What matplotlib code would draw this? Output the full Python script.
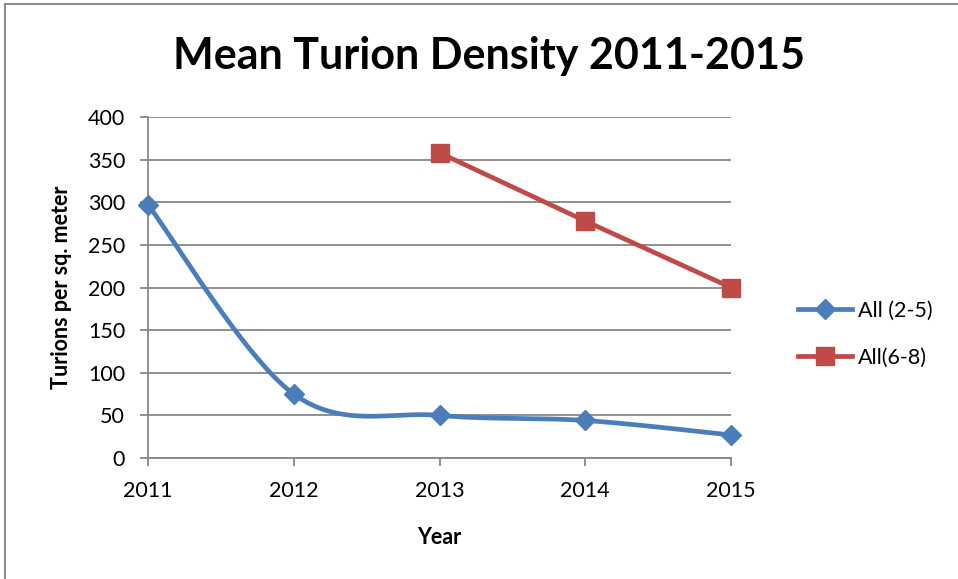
import numpy as np
import matplotlib
matplotlib.use("Agg")
import matplotlib.pyplot as plt
from matplotlib.patches import Rectangle
from matplotlib.lines import Line2D

years = [2011, 2012, 2013, 2014, 2015]
series_a_label = "All (2-5)"
series_a = [297, 75, 50, 44, 27]
series_b_label = "All(6-8)"
series_b_years = [2013, 2014, 2015]
series_b = [358, 278, 200]
yticks = [0, 50, 100, 150, 200, 250, 300, 350, 400]

BLUE = "#4A7EBB"
RED = "#BE4B48"
GRID = "#878787"

plt.rcParams["font.family"] = ["Lato", "DejaVu Sans"]


def smooth(xs, ys, n=40):
    """Catmull-Rom style Bezier smoothing through the given points."""
    xs = np.asarray(xs, float)
    ys = np.asarray(ys, float)
    px = np.concatenate([[xs[0]], xs, [xs[-1]]])
    py = np.concatenate([[ys[0]], ys, [ys[-1]]])
    out_x, out_y = [], []
    t = np.linspace(0, 1, n)
    for i in range(1, len(px) - 2):
        p0 = np.array([px[i], py[i]])
        p3 = np.array([px[i + 1], py[i + 1]])
        p1 = p0 + (np.array([px[i + 1], py[i + 1]]) - np.array([px[i - 1], py[i - 1]])) / 6
        p2 = p3 - (np.array([px[i + 2], py[i + 2]]) - np.array([px[i], py[i]])) / 6
        b = ((1 - t) ** 3)[:, None] * p0 + (3 * (1 - t) ** 2 * t)[:, None] * p1 \
            + (3 * (1 - t) * t ** 2)[:, None] * p2 + (t ** 3)[:, None] * p3
        out_x.extend(b[:, 0])
        out_y.extend(b[:, 1])
    return out_x, out_y


fig = plt.figure(figsize=(9.58, 5.79), dpi=100)
W, H = 958, 579
ax = fig.add_axes([148 / W, 1 - 458 / H, (731 - 148) / W, (458 - 117) / H])

# chart frame
fig.patches.append(Rectangle((5 / W, -0.01), 1.0, 1 - 4 / H + 0.01,
                             transform=fig.transFigure, fill=False,
                             edgecolor="#8C8C8C", linewidth=1.5))

sx, sy = smooth(years, series_a)
ax.plot(sx, sy, color=BLUE, linewidth=3.4, solid_capstyle="round", zorder=3)
ax.plot(years, series_a, linestyle="none", marker="D", markersize=10.5,
        color=BLUE, zorder=4)
ax.plot(series_b_years, series_b, color=RED, linewidth=3.4, marker="s",
        markersize=12.5, zorder=3)

ax.set_xlim(2011, 2015)
ax.set_ylim(0, 400)
ax.set_yticks(yticks)
ax.set_xticks(years)
ax.grid(axis="y", color=GRID, linewidth=1.3)
ax.set_axisbelow(True)
for s in ["top", "right", "bottom"]:
    ax.spines[s].set_visible(False)
ax.spines["left"].set_color(GRID)
ax.spines["left"].set_linewidth(1.3)
ax.axhline(0, color=GRID, linewidth=1.3, zorder=1)
ax.tick_params(axis="both", colors=GRID, length=5.5, width=1.3,
               labelcolor="black", labelsize=15.5)
ax.tick_params(axis="y", pad=11)
ax.tick_params(axis="x", pad=11)
ax.margins(x=0)
for line in ax.get_lines():
    line.set_clip_on(False)

ax.set_ylabel("Turions per sq. meter", fontsize=15.5, fontweight="bold", labelpad=11)
ax.set_xlabel("Year", fontsize=15.5, fontweight="bold", labelpad=19)
fig.text(489 / W, 1 - 56 / H, "Mean Turion Density 2011-2015", fontsize=31,
         fontweight="bold", ha="center", va="center")

handles = [
    Line2D([], [], color=BLUE, linewidth=3.4, marker="D", markersize=10.5),
    Line2D([], [], color=RED, linewidth=3.4, marker="s", markersize=12.5),
]
fig.legend(handles, [series_a_label, series_b_label], loc="center left",
           bbox_to_anchor=(779 / W, 1 - 334 / H), frameon=False, fontsize=15.5,
           handlelength=2.5, handletextpad=0.25, labelspacing=1.25)

fig.savefig("out.png", dpi=100)
